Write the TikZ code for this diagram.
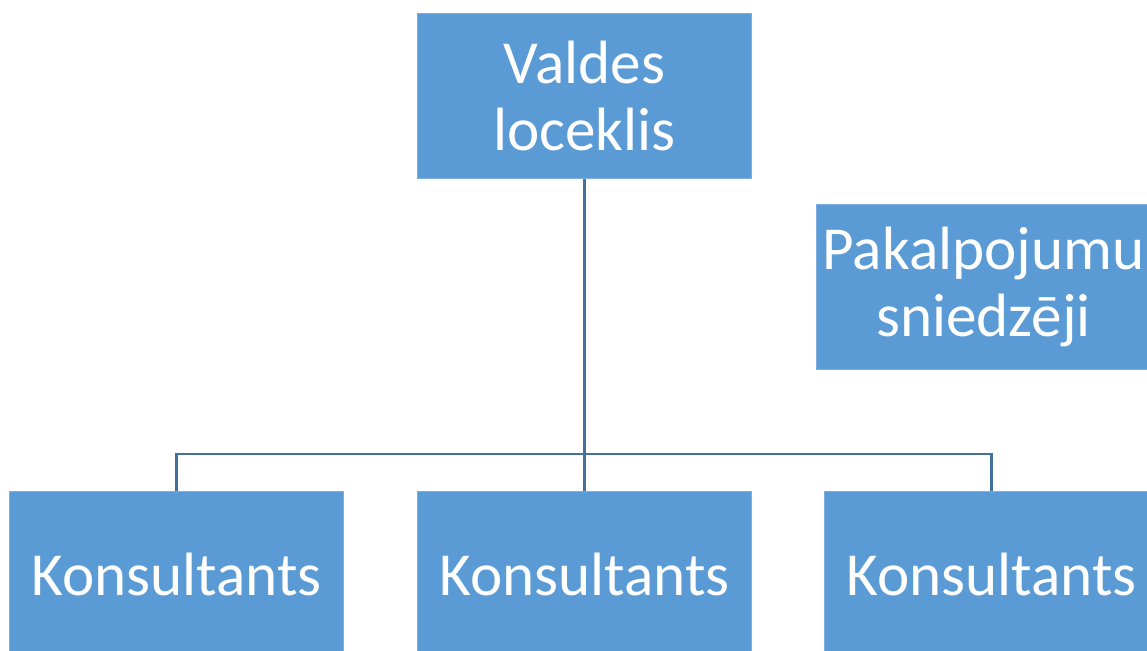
\documentclass[tikz,border=0pt]{standalone}
\usepackage{fontspec}
\setmainfont{Carlito}
\usepackage{tikz}
\usetikzlibrary{positioning}
\definecolor{boxblue}{HTML}{5B9BD5}
\definecolor{linkblue}{HTML}{41719C}
\tikzset{
  unit/.style={rectangle, fill=boxblue, draw=boxblue!80!white, line width=0.6pt,
               text=white, minimum width=6.68cm, minimum height=3.3cm,
               inner sep=0pt, align=center, anchor=north west,
               font=\fontsize{34.8}{38.5}\selectfont},
  link/.style={draw=linkblue, line width=1.6pt}
}

\begin{document}
\begin{tikzpicture}
  \useasboundingbox (0,0) rectangle (22.94,-13.02);
  \clip (0,0) rectangle (22.94,-13.02);
  % top level
  \node[unit] (board) at (8.34,-0.26) {Valdes\\loceklis};
  \node[unit] (service) at (16.32,-4.08) {Pakalpojumu\\sniedzēji};
  % consultants
  \node[unit] (cons1) at (0.18,-9.82) {Konsultants};
  \node[unit] (cons2) at (8.34,-9.82) {Konsultants};
  \node[unit] (cons3) at (16.48,-9.82) {Konsultants};
  \coordinate (bar) at (11.68,-9.08);
  \draw[link] (board.south) -- (cons2.north);
  \draw[link] (cons1.north) -- (cons1.north |- bar) -- (cons3.north |- bar) -- (cons3.north);
\end{tikzpicture}
\end{document}
